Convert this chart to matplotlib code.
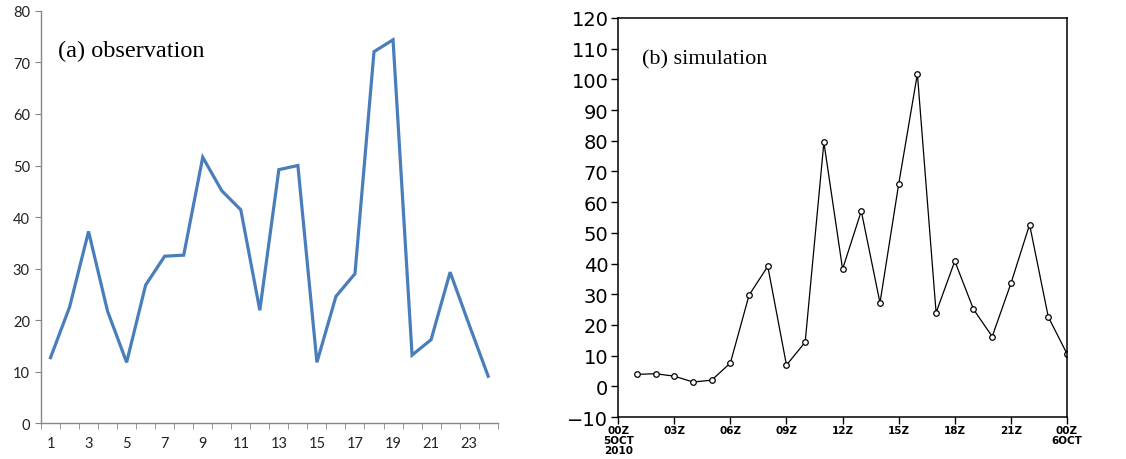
import matplotlib
matplotlib.use("Agg")
import matplotlib.pyplot as plt
import numpy as np

# (a) observation, hourly values 1..24
obs_hours = list(range(1, 25))
obs_values = [12.7, 22.5, 37.2, 21.7, 11.8, 26.8, 32.4, 32.6, 51.6, 45.1, 41.4, 21.9,
              49.2, 50.0, 11.8, 24.6, 29.0, 72.1, 74.4, 13.2, 16.2, 29.3, 19.1, 9.1]
obs_labels = [str(h) for h in range(1, 25, 2)]

# (b) simulation, hours after 00Z 5OCT2010
sim_hours = list(range(1, 25))
sim_values = [3.9, 4.1, 3.3, 1.4, 2.0, 7.6, 29.7, 39.1, 6.9, 14.4, 79.5, 38.2,
              57.1, 27.2, 65.9, 101.8, 24.0, 40.8, 25.1, 16.2, 33.5, 52.7, 22.6, 10.6]
sim_ticks = [0, 3, 6, 9, 12, 15, 18, 21, 24]
sim_labels = ["00Z\n5OCT\n2010", "03Z", "06Z", "09Z", "12Z", "15Z", "18Z", "21Z", "00Z\n6OCT"]

fig = plt.figure(figsize=(11.26, 4.6), dpi=100)

# left panel: excel style ######################################################
ax1 = fig.add_axes([0.0364, 0.078, 0.4056, 0.896])
ax1.plot(obs_hours, obs_values, color="#4a7ebb", linewidth=2.3, solid_joinstyle="miter")
ax1.set_xlim(0.5, 24.5)
ax1.set_ylim(0, 80)
ax1.set_yticks(np.arange(0, 81, 10))
ax1.set_xticks(range(1, 25, 2))
ax1.set_xticklabels(obs_labels)
ax1.set_xticks(np.arange(0.5, 25, 1), minor=True)
for s in ["top", "right"]:
    ax1.spines[s].set_visible(False)
for s in ["left", "bottom"]:
    ax1.spines[s].set_color("#868686")
    ax1.spines[s].set_linewidth(1.0)
ax1.tick_params(axis="x", which="major", length=0, pad=9, labelsize=10.5, labelcolor="#222222")
ax1.tick_params(axis="x", which="minor", length=4, color="#868686", direction="out")
ax1.tick_params(axis="y", length=4, color="#868686", pad=4, labelsize=10.5, labelcolor="#222222")
for lab in ax1.get_xticklabels() + ax1.get_yticklabels():
    lab.set_family("Lato")
ax1.text(0.037, 0.905, "(a) observation", transform=ax1.transAxes,
         family="Liberation Serif", fontsize=17.5, va="center", ha="left")

# right panel: grads style #####################################################
ax2 = fig.add_axes([0.549, 0.0913, 0.3986, 0.8674])
ax2.plot(sim_hours, sim_values, color="black", linewidth=0.9, marker="o",
         markersize=4, markerfacecolor="white", markeredgecolor="black", markeredgewidth=0.9)
ax2.set_xlim(0, 24)
ax2.set_ylim(-10, 120)
ax2.set_yticks(np.arange(-10, 121, 10))
ax2.set_yticklabels([str(v).replace("-", "\u2212") for v in range(-10, 121, 10)])
ax2.set_xticks(sim_ticks)
ax2.set_xticklabels(sim_labels, fontsize=7.5, fontweight="bold", linespacing=0.95)
for s in ax2.spines.values():
    s.set_linewidth(1.1)
ax2.tick_params(axis="y", length=5, width=1.0, labelsize=14, pad=2)
ax2.tick_params(axis="x", length=5, width=1.0, pad=1)
ax2.text(0.053, 0.898, "(b) simulation", transform=ax2.transAxes,
         family="Liberation Serif", fontsize=16, va="center", ha="left")

fig.savefig("out.png", dpi=100)
